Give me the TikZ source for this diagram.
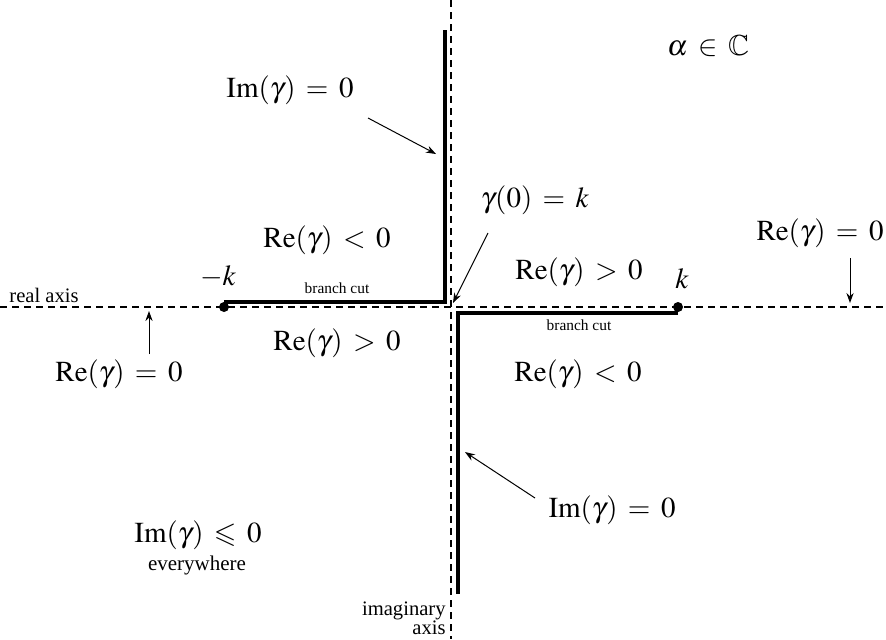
\documentclass[tikz,border=0pt]{standalone}
\usepackage{mathptmx}
\usepackage{amssymb}
\usepackage[no-math]{fontspec}
\setmainfont{Liberation Serif}
\usetikzlibrary{arrows.meta}
\thickmuskip=6.5mu plus 2mu
\begin{document}
\begin{tikzpicture}[x=0.5pt,y=-0.5pt,
  axisline/.style={line width=0.75pt,dash pattern=on 3.5pt off 2.5pt},
  cutline/.style={line width=2pt},
  pointer/.style={line width=0.5pt,-{Stealth[length=5pt,width=3.6pt]}},
  big/.style={font=\fontsize{14.5}{17}\selectfont,inner sep=0pt},
  small/.style={font=\fontsize{10.3}{12}\selectfont,inner sep=0pt},
  tiny/.style={font=\fontsize{7.7}{9}\selectfont,inner sep=0pt},
  dot/.style={circle,fill=black,inner sep=0pt,minimum size=5pt}]
\useasboundingbox (0,0) rectangle (886,639);
% axes
\coordinate (rl) at (0,307);
\coordinate (rr) at (886,307);
\coordinate (it) at (451,0);
\coordinate (ib) at (451,639);
\draw[axisline] (rl) -- (rr);
\draw[axisline] (it) -- (ib);
% branch points
\node[dot] (mk) at (224,307) {};
\node[dot] (pk) at (678,307) {};
% upper cut
\coordinate (ut) at (445,30);
\coordinate (uc) at (445,302);
\coordinate (ul) at (224,302);
\draw[cutline] (ut) -- (uc) -- (ul);
% lower cut
\coordinate (lr) at (678,313);
\coordinate (lc) at (458,313);
\coordinate (lb) at (458,594);
\draw[cutline] (lr) -- (lc) -- (lb);
% labels
\node[big] (alpha) at (708,46) {$\alpha\in\mathbb{C}$};
\node[big] (imtop) at (290,90) {$\mathrm{Im}(\gamma)=0$};
\node[big] (g0) at (535,200) {$\gamma(0)=k$};
\node[big] (reneg1) at (327,240) {$\mathrm{Re}(\gamma)<0$};
\node[big] (repos1) at (579,272) {$\mathrm{Re}(\gamma)>0$};
\node[big] (rezr) at (820,233) {$\mathrm{Re}(\gamma)=0$};
\node[big] (mklab) at (218,277) {$-k$};
\node[big] (pklab) at (682,279) {$k$};
\node[tiny] (bc1) at (337,288) {branch cut};
\node[tiny] (bc2) at (579,325) {branch cut};
\node[small,anchor=south west] (rax) at (9,303) {real axis};
\node[big] (rezl) at (119,374) {$\mathrm{Re}(\gamma)=0$};
\node[big] (repos2) at (337,343) {$\mathrm{Re}(\gamma)>0$};
\node[big] (reneg2) at (578,374) {$\mathrm{Re}(\gamma)<0$};
\node[big] (imbot) at (612,510) {$\mathrm{Im}(\gamma)=0$};
\node[big] (imle) at (198,535) {$\mathrm{Im}(\gamma)\leqslant 0$};
\node[small,font=\fontsize{10.5}{12}\selectfont] (every) at (197,565) {everywhere};
\node[small,anchor=east] (imax1) at (446,611) {imaginary};
\node[small,anchor=east] (imax2) at (446,628) {axis};
% pointers
\coordinate (p1s) at (368,118); \coordinate (p1e) at (436,154);
\draw[pointer] (p1s) -- (p1e);
\coordinate (p2s) at (488,233); \coordinate (p2e) at (453,303);
\draw[pointer] (p2s) -- (p2e);
\coordinate (p3s) at (850,258); \coordinate (p3e) at (850,303);
\draw[pointer] (p3s) -- (p3e);
\coordinate (p4s) at (149,354); \coordinate (p4e) at (149,311);
\draw[pointer] (p4s) -- (p4e);
\coordinate (p5s) at (535,498); \coordinate (p5e) at (465,452);
\draw[pointer] (p5s) -- (p5e);
\end{tikzpicture}
\end{document}
